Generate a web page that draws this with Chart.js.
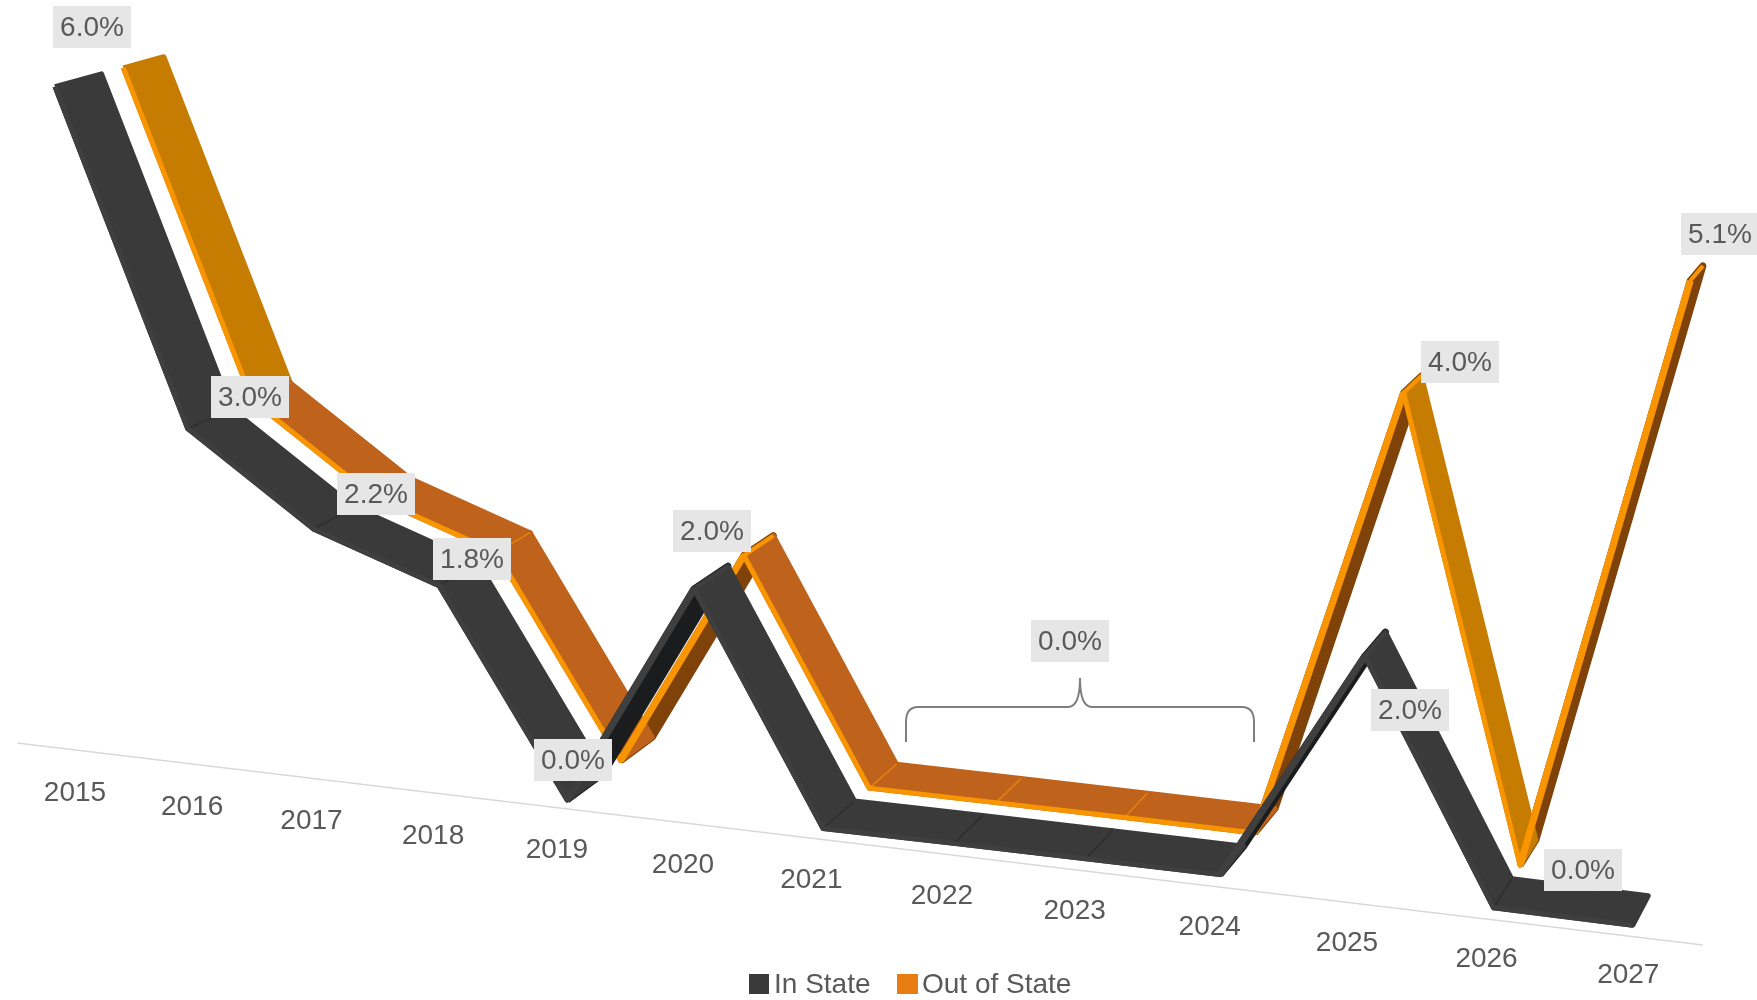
<!DOCTYPE html>
<html>
<head>
<meta charset="utf-8">
<title>In State / Out of State</title>
<script src="https://cdn.jsdelivr.net/npm/chart.js@4/dist/chart.umd.min.js"></script>
<style>
  html, body { margin: 0; padding: 0; background: #fff; }
  canvas { display: block; }
</style>
</head>
<body>
<canvas id="grafica" width="1757" height="1000"></canvas>
<script>
const YEARS = ['2015', '2016', '2017', '2018', '2019', '2020', '2021', '2022', '2023', '2024', '2025', '2026', '2027'];
const IN_STATE = [6.0, 3.0, 2.2, 1.8, 0, 2.0, 0, 0, 0, 0, 2.0, 0, 0];
const OUT_OF_STATE = [6.0, 3.0, 2.2, 1.8, 0, 2.0, 0, 0, 0, 0, 4.0, 0, 5.1];

// data labels: text and where its grey box is centred
const VALUE_LABELS = [
  ['6.0%', 92, 27], ['3.0%', 250, 397], ['2.2%', 376, 494], ['1.8%', 472, 559],
  ['0.0%', 573, 760], ['2.0%', 712, 531], ['0.0%', 1070, 641], ['4.0%', 1460, 362],
  ['2.0%', 1410, 710], ['0.0%', 1583, 870], ['5.1%', 1720, 234],
];

// The original is a 3D line chart, so every value goes through a small perspective
// projection first. The result is in picture units, the scales below do the rest.
const VANISH_X = 2409, VANISH_Y = -560, DEPTH_STEP = 0.0215;

function project(i, v, d) {
  const i4 = i * i * i * i;
  const px = 76 + 119.3 * i + 0.87 * i * i + (-3.5 + 0.67 * i + 0.00012 * i4) * v;
  const py = 749 + 11.8 * i + 0.24 * i * i - (110.4 + 0.4 * i + 0.0003 * i4) * v;
  return { x: px + d * DEPTH_STEP * (VANISH_X - px), y: py + d * DEPTH_STEP * (VANISH_Y - py) };
}

function areaDataset(points, color, width) {
  return {
    data: [...points, points[0]], fill: 'shape', backgroundColor: color,
    borderColor: color, borderWidth: width, borderJoinStyle: 'round', pointRadius: 0, tension: 0,
  };
}

function lineDataset(points, color, width) {
  return { data: points, fill: false, borderColor: color, borderWidth: width, borderJoinStyle: 'round', pointRadius: 0, tension: 0 };
}

// One ribbon: undersides of the rising segments first, then the top surfaces,
// the fold lines, and the front face over everything
function ribbon(values, depthFront, depthBack, colors) {
  const rising = [], falling = [], folds = [], rims = [];
  for (let i = 0; i < values.length - 1; i++) {
    const delta = values[i] - values[i + 1];
    const quad = [
      project(i, values[i], depthFront), project(i + 1, values[i + 1], depthFront),
      project(i + 1, values[i + 1], depthBack), project(i, values[i], depthBack),
    ];
    if (delta < 0) {
      rising.push(areaDataset(quad, colors.under, 7));
      rims.push(lineDataset(quad.slice(0, 2), colors.rim, 7));
      rims.push(lineDataset([quad[1], quad[2]], colors.rim, 4)); // cap at the top of the rise
    } else {
      falling.push(areaDataset(quad, delta > 2.5 ? colors.steep : colors.top, 5));
    }
    if (i > 0 && delta >= 0) {
      folds.push(lineDataset([quad[0], quad[3]], colors.fold, 1.5));
    }
  }
  const front = lineDataset(values.map((v, i) => project(i, v, depthFront)), colors.rim, 5);
  return [...rising, ...falling, ...folds, ...rims, front];
}

const painted = [
  lineDataset([{ x: 17, y: 743 }, { x: 1703, y: 945 }], '#d9d9d9', 1.5),
  ...ribbon(OUT_OF_STATE, 1.35, 2.15, { top: '#bf631c', steep: '#c67c00', under: '#7f4208', rim: '#f89500', fold: '#e5820f' }),
  ...ribbon(IN_STATE, 0, 0.92, { top: '#3a3a3a', steep: '#3a3a3a', under: '#1b1c1e', rim: '#3f3f3f', fold: '#2e2e2e' }),
];

// Chart.js paints the last dataset first, so flip the list
const datasets = painted.slice().reverse();

const textPlugin = {
  id: 'textPlugin',
  afterDatasetsDraw(chart) {
    const ctx = chart.ctx;
    const sx = chart.scales.x, sy = chart.scales.y;
    ctx.save();
    ctx.font = '28px "Liberation Sans", Arial, sans-serif';
    ctx.textBaseline = 'middle';

    // year labels run along the tilted axis
    ctx.textAlign = 'center';
    ctx.fillStyle = '#595959';
    YEARS.forEach((y, i) => {
      ctx.fillText(y, sx.getPixelForValue(75 + 116 * i + 1.12 * i * i), sy.getPixelForValue(793 + 14 * i + 0.1 * i * i));
    });

    // brace over 2022-2024
    ctx.strokeStyle = '#7f7f7f';
    ctx.lineWidth = 2;
    ctx.beginPath();
    ctx.moveTo(906, 742);
    ctx.lineTo(906, 722);
    ctx.quadraticCurveTo(906, 707, 918, 707);
    ctx.lineTo(1068, 707);
    ctx.quadraticCurveTo(1080, 707, 1080, 678);
    ctx.quadraticCurveTo(1080, 707, 1092, 707);
    ctx.lineTo(1242, 707);
    ctx.quadraticCurveTo(1254, 707, 1254, 722);
    ctx.lineTo(1254, 742);
    ctx.stroke();

    VALUE_LABELS.forEach(([text, cx, cy]) => {
      ctx.fillStyle = '#e7e6e6';
      ctx.fillRect(cx - 39, cy - 21, 78, 42);
      ctx.fillStyle = '#595959';
      ctx.fillText(text, cx, cy + 1);
    });

    // legend
    ctx.textAlign = 'left';
    ctx.fillStyle = '#3a3a3a';
    ctx.fillRect(749, 974, 20, 20);
    ctx.fillStyle = '#e77c10';
    ctx.fillRect(897, 974, 21, 20);
    ctx.fillStyle = '#595959';
    ctx.fillText('In State', 774, 985);
    ctx.fillText('Out of State', 922, 985);
    ctx.restore();
  },
};

new Chart(document.getElementById('grafica'), {
  type: 'line',
  data: { datasets },
  plugins: [textPlugin],
  options: {
    responsive: false,
    animation: false,
    layout: { padding: 0 },
    plugins: { legend: { display: false }, tooltip: { enabled: false } },
    scales: {
      x: { type: 'linear', min: 0, max: 1757, display: false },
      y: { type: 'linear', min: 0, max: 1000, reverse: true, display: false },
    },
  },
});
</script>
</body>
</html>
